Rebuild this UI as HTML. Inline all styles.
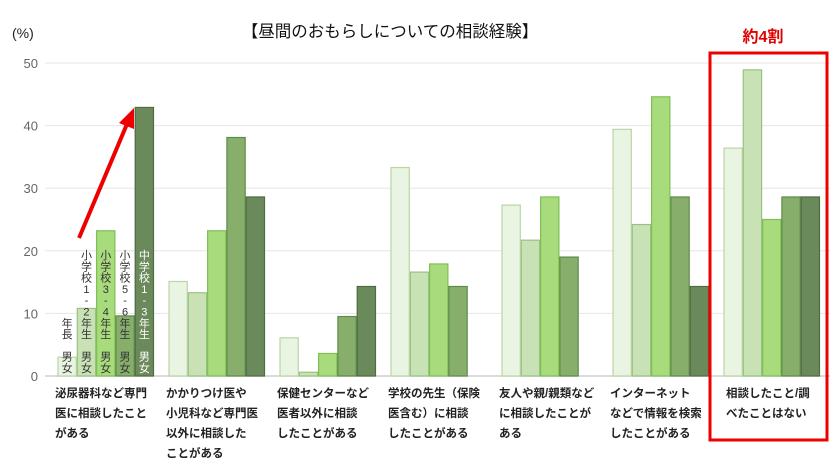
<!DOCTYPE html>
<html><head><meta charset="utf-8"><style>
body{margin:0;background:#fff;}
svg text{font-family:"Liberation Sans","Noto Sans CJK JP",sans-serif;}
</style></head><body>
<svg id="chart" width="840" height="470" viewBox="0 0 840 470" xmlns="http://www.w3.org/2000/svg">
<text x="12" y="38" font-size="14" fill="#222">(%)</text>
<text x="390" y="37" font-size="16.5" text-anchor="middle" fill="#111">【昼間のおもらしについての相談経験】</text>
<g id="grid"></g><g id="bars"></g><g id="labels"></g>
<rect x="710" y="53" width="117" height="387" fill="none" stroke="#ee0000" stroke-width="3"/>
<text x="763" y="42" font-size="16" font-weight="bold" fill="#e00000" text-anchor="middle">約4割</text>
<line x1="79" y1="238" x2="127" y2="124" stroke="#ee0000" stroke-width="4"/>
<polygon points="134,108 119,123 134,129" fill="#ee0000"/>
</svg>
<script>
const categories=[["泌尿器科など専門","医に相談したこと","がある"],["かかりつけ医や","小児科など専門医","以外に相談した","ことがある"],["保健センターなど","医者以外に相談","したことがある"],["学校の先生（保険","医含む）に相談","したことがある"],["友人や親/親類など","に相談したことが","ある"],["インターネット","などで情報を検索","したことがある"],["相談したこと/調","べたことはない"]];
const seriesNames=["年長 男女","小学校1-2年生 男女","小学校3-4年生 男女","小学校5-6年生 男女","中学校1-3年生 男女"];
const s1=[3,15.1,6.1,33.3,27.3,39.4,36.4];
const s2=[10.8,13.3,0.6,16.6,21.7,24.2,48.9];
const s3=[23.2,23.2,3.6,17.9,28.6,44.6,25.0];
const s4=[9.6,38.1,9.5,14.3,19.0,28.6,28.6];
const s5=[42.9,28.6,14.3,0,0,14.3,28.6];
const yTicks=[0,10,20,30,40,50];
const series=[s1,s2,s3,s4,s5];
const fills=["#eaf4e3","#c8e2b6","#a8db7c","#87ae6b","#6b8a5b"];
const strokes=["#b9d6a5","#98c281","#7fbf55","#5e8a4a","#4f6c42"];
const NS="http://www.w3.org/2000/svg";
const y0=376,yPer=6.26;
function y(v){return y0-v*yPer;}
function gx(i){return 58+i*111;}
const bw=19.3;
const grid=document.getElementById('grid');
yTicks.forEach(t=>{
 const l=document.createElementNS(NS,'line');
 
 
 l.setAttribute('x1',45);l.setAttribute('x2',830);l.setAttribute('y1',y(t));l.setAttribute('y2',y(t));
 l.setAttribute('stroke',t===0?'#cfcfcf':'#e6e6e6');l.setAttribute('stroke-width',t===0?1.5:1);
 grid.appendChild(l);
 const tx=document.createElementNS(NS,'text');
 
 
 tx.setAttribute('x',38);tx.setAttribute('y',y(t)+5);tx.setAttribute('text-anchor','end');
 tx.setAttribute('font-size','13');tx.setAttribute('fill','#666');tx.textContent=t;
 grid.appendChild(tx);
});
const bars=document.getElementById('bars');
series.forEach((s,si)=>{
 s.forEach((v,ci)=>{
  if(v<=0)return;
  const r=document.createElementNS(NS,'rect');
  
  
  r.setAttribute('x',gx(ci)+si*bw);r.setAttribute('y',y(v));
  r.setAttribute('width',bw-1);r.setAttribute('height',y0-y(v));
  r.setAttribute('fill',fills[si]);r.setAttribute('stroke',strokes[si]);r.setAttribute('stroke-width',1.2);
  bars.appendChild(r);
 });
});
const vlab=[["年","長","","男","女"],["小","学","校","1","-","2","年","生","","男","女"],["小","学","校","3","-","4","年","生","","男","女"],["小","学","校","5","-","6","年","生","","男","女"],["中","学","校","1","-","3","年","生","","男","女"]];
vlab.forEach((chars,si)=>{
 const n=chars.length;
 chars.forEach((c,k)=>{
  if(!c)return;
  const t=document.createElementNS(NS,'text');
  
  
  t.setAttribute('x',gx(0)+si*bw+bw/2-0.5);
  t.setAttribute('y',372-(n-1-k)*11.3);
  t.setAttribute('text-anchor','middle');t.setAttribute('font-size','11');
  t.setAttribute('fill',si===4?'#fff':'#333');
  t.textContent=c;bars.appendChild(t);
 });
});
const labels=document.getElementById('labels');
categories.forEach((lines,ci)=>{
 lines.forEach((ln,k)=>{
  const t=document.createElementNS(NS,'text');
  
  
  t.setAttribute('x',gx(ci)-3+(ci===6?5:0));t.setAttribute('y',397+k*20);
  t.setAttribute('font-size','11.5');t.setAttribute('font-weight','bold');t.setAttribute('fill','#222');
  t.textContent=ln;labels.appendChild(t);
 });
});
</script>
</body></html>
